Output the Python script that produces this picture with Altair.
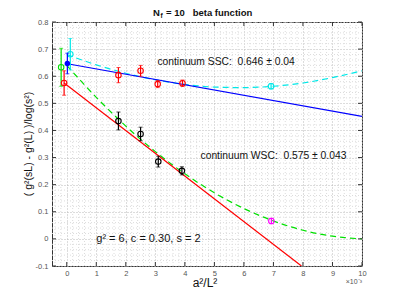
import altair as alt
import pandas as pd

# ---------------- data ----------------
red_x = [-0.09, 1.75, 2.5, 3.08, 3.92]
red_y = [0.575, 0.604, 0.62, 0.571, 0.574]
red_err = [0.045, 0.028, 0.02, 0.013, 0.012]

black_x = [1.75, 2.5, 3.1, 3.9]
black_y = [0.435, 0.387, 0.285, 0.251]
black_err = [0.033, 0.025, 0.02, 0.015]

green_x = [-0.19]
green_y = [0.633]
green_err = [0.07]

blue_x = [0.02]
blue_y = [0.647]
blue_err = [0.038]

cyan_x = [0.12, 6.92]
cyan_y = [0.681, 0.563]
cyan_err = [0.058, 0.01]

magenta_x = [6.93]
magenta_y = [0.066]
magenta_err = [0.01]

blue_line_x = [0.02, 10]
blue_line_y = [0.646, 0.452]

red_line_x = [-0.09, 7.95]
red_line_y = [0.575, -0.1]

cyan_curve_x = [0, 1, 2, 3, 4, 5, 6, 7, 8, 9, 10]
cyan_curve_y = [0.68, 0.642, 0.611, 0.587, 0.570, 0.560, 0.558, 0.563, 0.575, 0.595, 0.62]

green_curve_x = [0, 1, 2, 3, 4, 5, 6, 7, 8, 9, 10]
green_curve_y = [0.64, 0.522, 0.416, 0.322, 0.24, 0.17, 0.112, 0.066, 0.032, 0.010, 0.0]

x_ticks = [0, 1, 2, 3, 4, 5, 6, 7, 8, 9, 10]
y_ticks = [-0.1, 0, 0.1, 0.2, 0.3, 0.4, 0.5, 0.6, 0.7, 0.8]

W, H = 310, 244
FONT = "Liberation Sans"
NB = "\u00a0"

xs = alt.Scale(domain=[-0.5, 10], nice=False, zero=False)
ys = alt.Scale(domain=[-0.1, 0.8], nice=False, zero=False)

AX = alt.Axis(values=x_ticks, grid=True, ticks=False, domain=False, title=None,
              labelFontSize=7.5, labelColor="#555", labelFont=FONT,
              labelPadding=3, labelOverlap=False, labelFlush=False,
              gridColor="#b8b8b8", gridDash=[1, 2])
AY = alt.Axis(values=y_ticks, grid=True, ticks=False, domain=False, title=None,
              labelFontSize=7.5, labelColor="#555", labelFont=FONT,
              labelPadding=4, labelOverlap=False, labelFlush=False,
              gridColor="#b8b8b8", gridDash=[1, 2],
              labelExpr="datum.value == 0 ? '0' : replace(format(datum.value, '.1f'), '\u2212', '-')")


def ex(f="x:Q"):
    return alt.X(f, scale=xs, axis=AX, title=None)


def ey(f="y:Q"):
    return alt.Y(f, scale=ys, axis=AY, title=None)


def pts(xv, yv, ev):
    return pd.DataFrame({"x": xv, "y": yv, "lo": [a - b for a, b in zip(yv, ev)],
                         "hi": [a + b for a, b in zip(yv, ev)]})


def line(xv, yv):
    return pd.DataFrame({"x": xv, "y": yv})


base_axes = alt.Chart(pd.DataFrame({"x": [0], "y": [0]})).mark_point(opacity=0).encode(x=ex(), y=ey())

# minor grid
minor_x = [round(-0.4 + 0.2 * i, 2) for i in range(53)]
minor_x = [v for v in minor_x if abs(v - round(v)) > 1e-6]
minor_y = [round(-0.1 + 0.02 * i, 2) for i in range(46)]
minor_y = [v for v in minor_y if abs(v * 10 - round(v * 10)) > 1e-6]

grid_x = alt.Chart(pd.DataFrame({"x": minor_x})).mark_rule(
    color="#dcdcdc", strokeDash=[1, 2], strokeWidth=1).encode(x=ex())
grid_y = alt.Chart(pd.DataFrame({"y": minor_y})).mark_rule(
    color="#dcdcdc", strokeDash=[1, 2], strokeWidth=1).encode(y=ey())

layers = [base_axes, grid_x, grid_y]


def curve(df, color, dash=None):
    kw = dict(color=color, strokeWidth=1.2, clip=True)
    if dash:
        kw["strokeDash"] = dash
        kw["interpolate"] = "monotone"
    return alt.Chart(df).mark_line(**kw).encode(x=ex(), y=ey())


layers += [
    curve(line(cyan_curve_x, cyan_curve_y), "#00e8e8", [6, 4]),
    curve(line(green_curve_x, green_curve_y), "#00e000", [6, 4]),
    curve(line(blue_line_x, blue_line_y), "#0000ff"),
    curve(line(red_line_x, red_line_y), "#ff0000"),
]


def errpts(df, color, filled=False):
    b = alt.Chart(df)
    bar = b.mark_rule(color=color, strokeWidth=1.2).encode(x=ex(), y=ey("lo:Q"), y2="hi:Q")
    cap1 = b.mark_tick(color=color, orient="horizontal", size=4, thickness=1).encode(x=ex(), y=ey("lo:Q"))
    cap2 = b.mark_tick(color=color, orient="horizontal", size=4, thickness=1).encode(x=ex(), y=ey("hi:Q"))
    pt = b.mark_point(color=color, shape="circle", size=30, filled=filled,
                      strokeWidth=1.1, opacity=1).encode(x=ex(), y=ey())
    return [bar, cap1, cap2, pt]


layers += errpts(pts(green_x, green_y, green_err), "#00e000")
layers += errpts(pts(red_x, red_y, red_err), "#ff0000")
layers += errpts(pts(black_x, black_y, black_err), "#000000")
layers += errpts(pts(cyan_x, cyan_y, cyan_err), "#00e8e8")
layers += errpts(pts(blue_x, blue_y, blue_err), "#0000ff", filled=True)
layers += errpts(pts(magenta_x, magenta_y, magenta_err), "#ff00ff")

# inward ticks on all four sides
tx = pd.DataFrame({"x": x_ticks})
ty = pd.DataFrame({"y": y_ticks})
tick_style = dict(color="#333", strokeWidth=1)
layers += [
    alt.Chart(tx).mark_rule(**tick_style).encode(x=ex(), y=alt.value(H), y2=alt.value(H - 4)),
    alt.Chart(tx).mark_rule(**tick_style).encode(x=ex(), y=alt.value(0), y2=alt.value(4)),
    alt.Chart(ty).mark_rule(**tick_style).encode(y=ey(), x=alt.value(0), x2=alt.value(4)),
    alt.Chart(ty).mark_rule(**tick_style).encode(y=ey(), x=alt.value(W), x2=alt.value(W - 4)),
]

# annotation texts (data coordinates)
ann = pd.DataFrame({
    "x": [3.07, 4.53, 1.0],
    "y": [0.652, 0.305, 0.0],
    "t": ["continuum SSC:" + NB + NB + "0.646 \u00b1 0.04",
          "continuum WSC:" + NB + NB + "0.575 \u00b1 0.043",
          "g\u00b2 = 6, c = 0.30, s = 2"],
    "fs": [10.3, 10.3, 11],
})
for i in range(3):
    layers.append(alt.Chart(ann.iloc[[i]]).mark_text(
        align="left", baseline="middle", font=FONT, fontSize=float(ann.fs[i]), color="#111").encode(
        x=ex(), y=ey(), text="t:N"))

# titles / labels in pixel space
one = pd.DataFrame({"a": [0]})


def ptext(t, x, y, size, weight="normal", align="center", angle=0, color="#111"):
    kw = dict(align=align, baseline="middle", font=FONT, fontSize=size, fontWeight=weight, color=color)
    if angle:
        kw["angle"] = angle
    return alt.Chart(one).mark_text(text=t, **kw).encode(x=alt.value(x), y=alt.value(y))


layers += [
    ptext("N", 101, -9, 9.5, "bold", "left"),
    ptext("f", 108.5, -6, 6.5, "bold", "left"),
    ptext("=" + NB + "10" + NB + NB + NB + "beta function", 114, -9, 9.5, "bold", "left"),
    ptext("a\u00b2/L\u00b2", 153, 261, 12),
    ptext("\u00d710\u207b\u00b3", 310, 260, 7, align="right", color="#555"),
    ptext("( g\u00b2(sL) - g\u00b2(L) )/log(s\u00b2)", -23, 122, 10.5, angle=270),
]

chart = alt.layer(*layers).properties(
    width=W, height=H,
    padding={"left": 44, "top": 14, "right": 29, "bottom": 25},
    autosize=alt.AutoSizeParams(type="none"),
).configure_view(stroke="#333", strokeWidth=1)

chart.save("out.html", embed_options={"renderer": "svg", "actions": False})
